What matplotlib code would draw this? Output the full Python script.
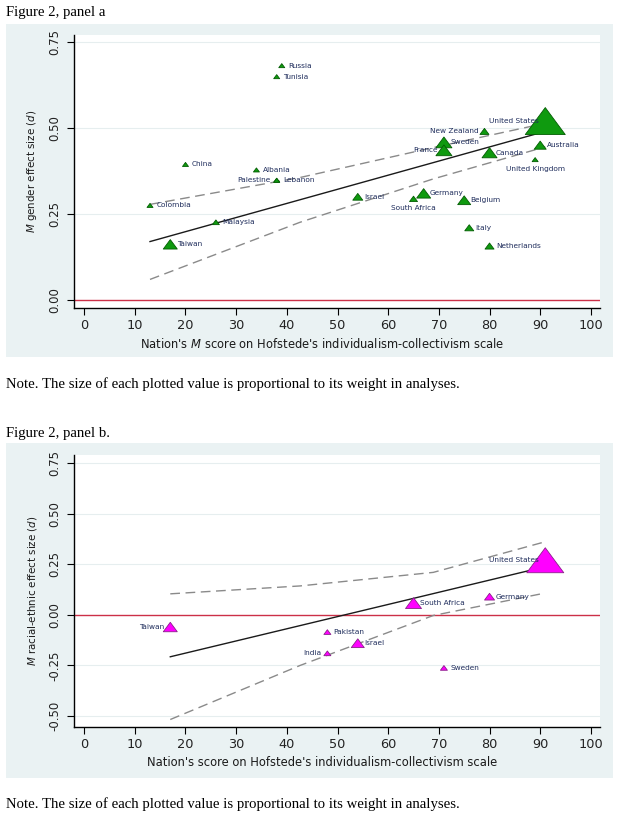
import matplotlib
matplotlib.use("Agg")
import matplotlib.pyplot as plt
from matplotlib.patches import Rectangle
from matplotlib.path import Path
import numpy as np

plt.rcParams['font.family'] = ['DejaVu Sans']
plt.rcParams['mathtext.fontset'] = 'custom'
plt.rcParams['mathtext.it'] = 'DejaVu Sans:italic'
plt.rcParams['mathtext.rm'] = 'DejaVu Sans'

# ---------------- Panel a data ----------------
a_countries = ["Russia", "Tunisia", "China", "Albania", "Palestine", "Lebanon", "Colombia",
               "Malaysia", "Taiwan", "Israel", "South Africa", "Germany", "Belgium", "Italy",
               "Netherlands", "New Zealand", "Sweden", "France", "Canada", "United States",
               "Australia", "United Kingdom"]
a_x = [39, 38, 20, 34, 38, 38, 13, 26, 17, 54, 65, 67, 75, 76, 80, 79, 71, 71, 80, 91, 90, 89]
a_y = [0.681, 0.649, 0.394, 0.378, 0.348, 0.348, 0.275, 0.226, 0.162, 0.300, 0.294, 0.310,
       0.290, 0.210, 0.157, 0.490, 0.458, 0.435, 0.428, 0.520, 0.450, 0.408]
a_weight = [3.6, 3.6, 3.6, 3.6, 3.6, 3.6, 3.6, 4.9, 19.6, 10.0, 6.4, 19.6, 16.9, 8.1,
            8.1, 8.1, 25.6, 25.6, 22.5, 160.0, 14.4, 3.6]
a_labelpos = ["r", "r", "r", "r", "l", "r", "r", "r", "r", "r", "below", "r", "r", "r",
              "r", "l", "r", "l", "r", "l", "r", "below"]
a_fit_x = [13, 91]
a_fit_y = [0.170, 0.490]
a_ci_x_up = [13, 42.6, 68.9, 88, 91]
a_ci_up = [0.278, 0.356, 0.443, 0.504, 0.515]
a_ci_x_lo = [13, 42.6, 68.9, 91]
a_ci_lo = [0.060, 0.226, 0.352, 0.445]

# ---------------- Panel b data ----------------
b_countries = ["Taiwan", "Pakistan", "India", "Israel", "South Africa", "Sweden",
               "Germany", "United States"]
b_x = [17, 48, 48, 54, 65, 71, 80, 91]
b_y = [-0.060, -0.085, -0.190, -0.140, 0.058, -0.262, 0.090, 0.270]
b_weight = [19.6, 4.9, 4.9, 16.9, 25.6, 4.9, 10.0, 137.0]
b_labelpos = ["l", "r", "l", "r", "r", "r", "r", "l"]
b_fit_x = [17, 91]
b_fit_y = [-0.207, 0.238]
b_ci_x_up = [17, 42.6, 68.9, 90.5]
b_ci_up = [0.104, 0.143, 0.210, 0.358]
b_ci_x_lo = [17, 42.6, 68.9, 91]
b_ci_lo = [-0.517, -0.250, -0.003, 0.108]

xticks = [0, 10, 20, 30, 40, 50, 60, 70, 80, 90, 100]
a_yticks = [0.00, 0.25, 0.50, 0.75]
b_yticks = [-0.50, -0.25, 0.00, 0.25, 0.50, 0.75]

W, H = 619, 817
fig = plt.figure(figsize=(W / 100, H / 100), dpi=100)
fig.patch.set_facecolor('white')

BG = '#eaf2f3'
LABEL_C = '#1f2d5c'

tri = Path([(-1, -0.675), (1, -0.675), (0, 0.675), (-1, -0.675)],
           [Path.MOVETO, Path.LINETO, Path.LINETO, Path.CLOSEPOLY])


def bg_rect(y0, y1):
    fig.patches.append(Rectangle((6 / W, 1 - y1 / H), 607 / W, (y1 - y0) / H,
                                 transform=fig.transFigure, facecolor=BG,
                                 edgecolor='none', zorder=-10))


def make_panel(top_px, bot_px, ylim, yticks, xs, ys, ws, names, pos, fc, ec,
               fitx, fity, cxu, cu, cxl, cl, ylabel, xlabel):
    ax = fig.add_axes([74 / W, 1 - bot_px / H, 526 / W, (bot_px - top_px) / H])
    ax.set_zorder(5)
    ax.set_facecolor('white')
    ax.set_xlim(-2, 101.8)
    ax.set_ylim(*ylim)
    for s in ['top', 'right']:
        ax.spines[s].set_visible(False)
    for s in ['left', 'bottom']:
        ax.spines[s].set_linewidth(1.0)
        ax.spines[s].set_color('black')
    ax.set_xticks(xticks)
    ax.set_yticks(yticks)
    ax.set_yticklabels([f"{t:.2f}" for t in yticks], rotation=90, va='center')
    ax.tick_params(axis='both', length=5, width=0.8,
                   labelcolor='#222222', color='black')
    ax.tick_params(axis='x', pad=3, labelsize=9.3)
    ax.tick_params(axis='y', pad=4, labelsize=8.5)
    for t in yticks:
        if t != 0:
            ax.axhline(t, color='#e6eeef', lw=0.8, zorder=1)
    ax.axhline(0, color='#cc3048', lw=1.0, zorder=2)
    ax.plot(fitx, fity, color='#1a1a1a', lw=1.0, zorder=3)
    ax.plot(cxu, cu, color='#8a8a8a', lw=1.0, dashes=(7, 4), zorder=3)
    ax.plot(cxl, cl, color='#8a8a8a', lw=1.0, dashes=(7, 4), zorder=3)
    sizes = [(np.sqrt(w * 10) / 1.389) ** 2 for w in ws]
    ax.scatter(xs, ys, s=sizes, marker=tri, facecolor=fc, edgecolor=ec,
               linewidth=0.6, zorder=4, clip_on=False)
    for x, y, n, p in zip(xs, ys, names, pos):
        if p == "r":
            ax.annotate(n, (x, y), xytext=(4.5, 0), textcoords='offset points',
                        ha='left', va='center', fontsize=5.3, color=LABEL_C, zorder=5)
        elif p == "l":
            ax.annotate(n, (x, y), xytext=(-4.5, 0), textcoords='offset points',
                        ha='right', va='center', fontsize=5.3, color=LABEL_C, zorder=5)
        else:
            ax.annotate(n, (x, y), xytext=(0, -6.5), textcoords='offset points',
                        ha='center', va='center', fontsize=5.3, color=LABEL_C, zorder=5)
    ax.set_ylabel(ylabel, fontsize=7.4, color='#1a1a1a')
    ax.yaxis.set_label_coords(-0.066, 0.5)
    ax.set_xlabel(xlabel, fontsize=8.3, color='#1a1a1a')
    ax.xaxis.set_label_coords((322 - 74) / 526, -29 / (bot_px - top_px))
    return ax


bg_rect(24, 357)
bg_rect(443, 778)

make_panel(35, 308, (-0.023, 0.77), a_yticks, a_x, a_y, a_weight, a_countries, a_labelpos,
           '#0f9a0f', '#035c03', a_fit_x, a_fit_y, a_ci_x_up, a_ci_up, a_ci_x_lo, a_ci_lo,
           r"$M$ gender effect size ($d$)",
           r"Nation's $M$ score on Hofstede's individualism-collectivism scale")

make_panel(455, 727, (-0.554, 0.79), b_yticks, b_x, b_y, b_weight, b_countries, b_labelpos,
           '#ff00ff', '#8a208a', b_fit_x, b_fit_y, b_ci_x_up, b_ci_up, b_ci_x_lo, b_ci_lo,
           r"$M$ racial-ethnic effect size ($d$)",
           "Nation's score on Hofstede's individualism-collectivism scale")

serif = ['Liberation Serif', 'DejaVu Serif']
fig.text(6 / W, 1 - 16 / H, "Figure 2, panel a", family=serif, fontsize=10.6,
         va='baseline', ha='left')
fig.text(6 / W, 1 - 388 / H,
         "Note. The size of each plotted value is proportional to its weight in analyses.",
         family=serif, fontsize=10.6, va='baseline', ha='left')
fig.text(6 / W, 1 - 437 / H, "Figure 2, panel b.", family=serif, fontsize=10.6,
         va='baseline', ha='left')
fig.text(6 / W, 1 - 808 / H,
         "Note. The size of each plotted value is proportional to its weight in analyses.",
         family=serif, fontsize=10.6, va='baseline', ha='left')

fig.savefig("out.png", dpi=100)
